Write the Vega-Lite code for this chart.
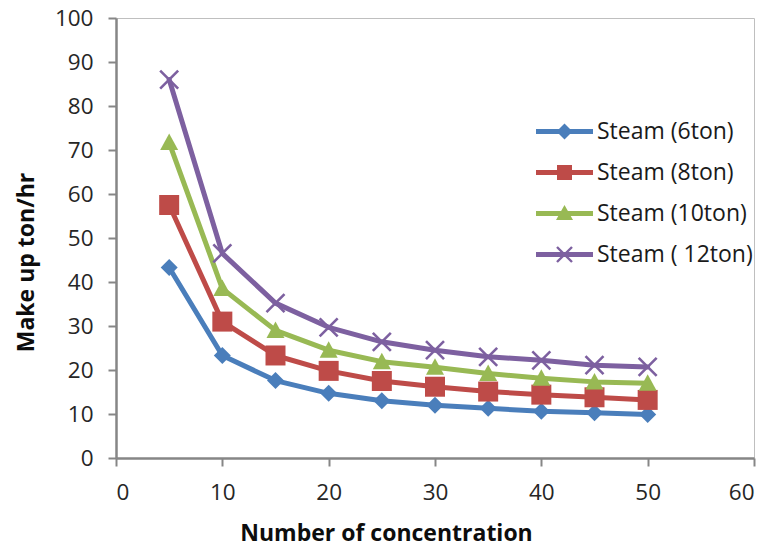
{
  "$schema": "https://vega.github.io/schema/vega-lite/v6.json",
  "autosize": {"type": "none"},
  "width": 638,
  "height": 440,
  "padding": {"left": 116, "top": 18, "right": 12, "bottom": 90},
  "background": "white",
  "data": {"values": [
    {"x": 5, "value": 43.3, "series": "Steam (6ton)"},
    {"x": 10, "value": 23.3, "series": "Steam (6ton)"},
    {"x": 15, "value": 17.6, "series": "Steam (6ton)"},
    {"x": 20, "value": 14.7, "series": "Steam (6ton)"},
    {"x": 25, "value": 13.0, "series": "Steam (6ton)"},
    {"x": 30, "value": 12.0, "series": "Steam (6ton)"},
    {"x": 35, "value": 11.3, "series": "Steam (6ton)"},
    {"x": 40, "value": 10.6, "series": "Steam (6ton)"},
    {"x": 45, "value": 10.3, "series": "Steam (6ton)"},
    {"x": 50, "value": 9.9, "series": "Steam (6ton)"},
    {"x": 5, "value": 57.5, "series": "Steam (8ton)"},
    {"x": 10, "value": 31.0, "series": "Steam (8ton)"},
    {"x": 15, "value": 23.3, "series": "Steam (8ton)"},
    {"x": 20, "value": 19.8, "series": "Steam (8ton)"},
    {"x": 25, "value": 17.5, "series": "Steam (8ton)"},
    {"x": 30, "value": 16.2, "series": "Steam (8ton)"},
    {"x": 35, "value": 15.1, "series": "Steam (8ton)"},
    {"x": 40, "value": 14.4, "series": "Steam (8ton)"},
    {"x": 45, "value": 13.8, "series": "Steam (8ton)"},
    {"x": 50, "value": 13.2, "series": "Steam (8ton)"},
    {"x": 5, "value": 71.7, "series": "Steam (10ton)"},
    {"x": 10, "value": 38.5, "series": "Steam (10ton)"},
    {"x": 15, "value": 29.0, "series": "Steam (10ton)"},
    {"x": 20, "value": 24.5, "series": "Steam (10ton)"},
    {"x": 25, "value": 21.9, "series": "Steam (10ton)"},
    {"x": 30, "value": 20.6, "series": "Steam (10ton)"},
    {"x": 35, "value": 19.2, "series": "Steam (10ton)"},
    {"x": 40, "value": 18.1, "series": "Steam (10ton)"},
    {"x": 45, "value": 17.3, "series": "Steam (10ton)"},
    {"x": 50, "value": 17.0, "series": "Steam (10ton)"},
    {"x": 5, "value": 86.0, "series": "Steam ( 12ton)"},
    {"x": 10, "value": 46.5, "series": "Steam ( 12ton)"},
    {"x": 15, "value": 35.2, "series": "Steam ( 12ton)"},
    {"x": 20, "value": 29.7, "series": "Steam ( 12ton)"},
    {"x": 25, "value": 26.4, "series": "Steam ( 12ton)"},
    {"x": 30, "value": 24.5, "series": "Steam ( 12ton)"},
    {"x": 35, "value": 23.0, "series": "Steam ( 12ton)"},
    {"x": 40, "value": 22.2, "series": "Steam ( 12ton)"},
    {"x": 45, "value": 21.1, "series": "Steam ( 12ton)"},
    {"x": 50, "value": 20.7, "series": "Steam ( 12ton)"}
  ]},
  "encoding": {
    "x": {
      "field": "x", "type": "quantitative",
      "scale": {"domain": [0, 60], "nice": false, "zero": true},
      "axis": {
        "title": "Number of concentration",
        "values": [0, 10, 20, 30, 40, 50, 60],
        "grid": false,
        "titleX": 270, "titleY": 82, "titleBaseline": "alphabetic", "titleAlign": "center", "titleAnchor": null
      }
    },
    "y": {
      "field": "value", "type": "quantitative",
      "scale": {"domain": [0, 100], "nice": false},
      "axis": {
        "title": "Make up ton/hr",
        "values": [0, 10, 20, 30, 40, 50, 60, 70, 80, 90, 100],
        "grid": false,
        "titleX": -83, "titleY": 244, "titleBaseline": "alphabetic", "titleAlign": "center", "titleAnchor": null, "titleAngle": -90, "titleFontSize": 23
      }
    },
    "color": {
      "field": "series", "type": "nominal",
      "scale": {
        "domain": ["Steam (6ton)", "Steam (8ton)", "Steam (10ton)", "Steam ( 12ton)"],
        "range": ["#4A7EBB", "#BE4B48", "#98B954", "#7D60A0"]
      },
      "legend": {
        "title": null,
        "orient": "none",
        "legendX": 437,
        "legendY": 102,
        "padding": 0,
        "symbolSize": 400,
        "symbolStrokeWidth": 0,
        "labelOffset": 21,
        "rowPadding": 17,
        "labelFont": "Open Sans",
        "labelFontSize": 23,
        "labelColor": "#1a1a1a",
        "labelLimit": 400,
        "encode": {
          "symbols": {
            "update": {
              "shape": {"signal": "datum.value === 'Steam (6ton)' ? 'M-2.85,-0.24L2.85,-0.24L2.85,0.24L-2.85,0.24ZM-0.8,0L0,-0.8L0.8,0L0,0.8Z' : datum.value === 'Steam (8ton)' ? 'M-2.85,-0.24L2.85,-0.24L2.85,0.24L-2.85,0.24ZM-0.75,-0.75L0.75,-0.75L0.75,0.75L-0.75,0.75Z' : datum.value === 'Steam (10ton)' ? 'M-2.85,-0.24L2.85,-0.24L2.85,0.24L-2.85,0.24ZM0,-0.85L0.85,0.65L-0.85,0.65Z' : 'M-2.85,-0.24L2.85,-0.24L2.85,0.24L-2.85,0.24ZM-0.665,-0.835L0.835,0.665L0.665,0.835L-0.835,-0.665ZM-0.665,0.835L-0.835,0.665L0.665,-0.835L0.835,-0.665Z'"},
              "size": {"value": 400},
              "fill": {"scale": "color", "field": "value"},
              "stroke": {"value": "transparent"},
              "strokeWidth": {"value": 0},
              "opacity": {"value": 1},
              "fillOpacity": {"value": 1}
            }
          }
        }
      }
    }
  },
  "layer": [
    {
      "mark": {"type": "line", "strokeWidth": 5, "strokeJoin": "round", "strokeCap": "round"}
    },
    {
      "transform": [{"filter": "datum.series === 'Steam (6ton)'"}],
      "mark": {"type": "point", "filled": true, "size": 400, "opacity": 1, "shape": "M-0.85,0L0,-0.85L0.85,0L0,0.85Z"}
    },
    {
      "transform": [{"filter": "datum.series === 'Steam (8ton)'"}],
      "mark": {"type": "point", "filled": true, "size": 400, "opacity": 1, "shape": "M-1,-1L1,-1L1,1L-1,1Z"}
    },
    {
      "transform": [{"filter": "datum.series === 'Steam (10ton)'"}],
      "mark": {"type": "point", "filled": true, "size": 400, "opacity": 1, "shape": "M0,-0.9L0.9,0.75L-0.9,0.75Z"}
    },
    {
      "transform": [{"filter": "datum.series === 'Steam ( 12ton)'"}],
      "mark": {"type": "point", "filled": true, "size": 400, "opacity": 1, "shape": "M-0.808,-0.992L0.992,0.808L0.808,0.992L-0.992,-0.808ZM-0.808,0.992L-0.992,0.808L0.808,-0.992L0.992,-0.808Z"}
    }
  ],
  "config": {
    "view": {"stroke": "#bfbfbf", "strokeWidth": 1},
    "axis": {
      "domainColor": "#868686",
      "domainWidth": 2.5,
      "tickColor": "#868686",
      "tickWidth": 2,
      "tickSize": 8,
      "labelFont": "Open Sans",
      "labelFontSize": 22.5,
      "labelColor": "#262626",
      "labelPadding": 15,
      "titleFont": "Open Sans",
      "titleFontSize": 23,
      "titleFontWeight": "bold",
      "titleColor": "#0d0d0d"
    }
  }
}
